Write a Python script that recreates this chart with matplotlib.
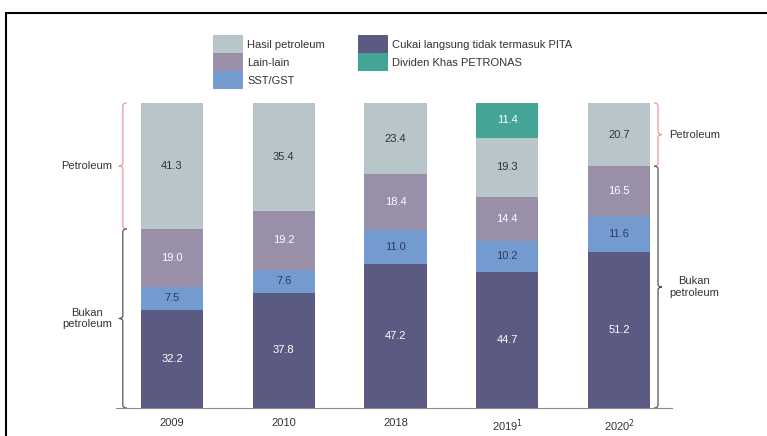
import matplotlib.pyplot as plt
from matplotlib.path import Path
from matplotlib.patches import PathPatch, Rectangle, Patch

plt.rcParams['font.family'] = ['Liberation Sans', 'DejaVu Sans']

# data (% of total revenue)
years = ["2009", "2010", "2018", "2019$^{1}$", "2020$^{2}$"]
cukai = [32.2, 37.8, 47.2, 44.7, 51.2]
sst = [7.5, 7.6, 11.0, 10.2, 11.6]
lain = [19.0, 19.2, 18.4, 14.4, 16.5]
hasil = [41.3, 35.4, 23.4, 19.3, 20.7]
dividen = [0, 0, 0, 11.4, 0]

series_names = ["Cukai langsung tidak termasuk PITA", "SST/GST", "Lain-lain",
                "Hasil petroleum", "Dividen Khas PETRONAS"]
series_vals = [cukai, sst, lain, hasil, dividen]
colors = ["#5b5a82", "#739bd0", "#9a8fa9", "#b8c6c9", "#44a596"]
text_colors = ["white", "#2f3a5c", "white", "#333333", "white"]

FS = 8
W, H = 767, 436
fig = plt.figure(figsize=(W / 100, H / 100), dpi=100)


def px_box(x0, y0, x1, y1):
    return [x0 / W, 1 - y1 / H, (x1 - x0) / W, (y1 - y0) / H]


ax = fig.add_axes(px_box(116, 103, 672, 408))
xmin, xmax = -0.501, 4.474
ax.set_xlim(xmin, xmax)
ax.set_ylim(0, 100)
sx = (xmax - xmin) / 556  # data units per pixel
sy = 100 / 305

x = list(range(len(years)))
bottom = [0] * len(years)
for vals, c, tc in zip(series_vals, colors, text_colors):
    ax.bar(x, vals, width=0.555, bottom=bottom, color=c, linewidth=0)
    for i, v in enumerate(vals):
        if v > 0:
            ax.text(x[i], bottom[i] + v / 2, f"{v:.1f}", ha="center", va="center",
                    fontsize=FS, color=tc)
    bottom = [b + v for b, v in zip(bottom, vals)]

for s in ["top", "right", "left"]:
    ax.spines[s].set_visible(False)
ax.spines["bottom"].set_color("#888888")
ax.set_yticks([])
ax.set_xticks(x)
ax.set_xticklabels(years, fontsize=FS, color="#333333")
ax.tick_params(axis="x", length=0, pad=7)


def brace(xc, y0, y1, side, color):
    w = 4 * sx
    h = 3 * sy
    ym = (y0 + y1) / 2
    verts = [(xc - side * w, y1), (xc, y1), (xc, y1 - h),
             (xc, ym + h), (xc, ym), (xc + side * w, ym),
             (xc, ym), (xc, ym - h),
             (xc, y0 + h), (xc, y0), (xc - side * w, y0)]
    codes = [Path.MOVETO, Path.CURVE3, Path.CURVE3, Path.LINETO, Path.CURVE3, Path.CURVE3,
             Path.CURVE3, Path.CURVE3, Path.LINETO, Path.CURVE3, Path.CURVE3]
    ax.add_patch(PathPatch(Path(verts, codes), fill=False, ec=color, lw=0.9, clip_on=False))


red = "#e99a9a"
grey = "#555555"
# left braces (2009)
split_l = 100 - hasil[0]
brace(-0.44, split_l, 100, -1, red)
brace(-0.44, 0, split_l, -1, grey)
ax.text(-0.537, (split_l + 100) / 2, "Petroleum", ha="right", va="center", fontsize=FS, color="#333333")
ax.text(-0.537, split_l / 2, "Bukan\npetroleum", ha="right", va="center", fontsize=FS,
        color="#333333", multialignment="center")
# right braces (2020)
split_r = 100 - hasil[4]
brace(4.349, split_r, 100, 1, red)
brace(4.349, 0, split_r, 1, grey)
ax.text(4.447, (split_r + 100) / 2, "Petroleum", ha="left", va="center", fontsize=FS, color="#333333")
ax.text(4.447, split_r / 2, "Bukan\npetroleum", ha="left", va="center", fontsize=FS,
        color="#333333", multialignment="center")

# legend
order = [3, 2, 1, 0, 4]
handles = [Patch(fc=colors[i], ec="none") for i in order]
labels = [series_names[i] for i in order]
leg = fig.legend(handles, labels, ncol=2, loc="upper left", bbox_to_anchor=(213 / W, 1 - 35 / H),
                 frameon=False, borderpad=0, borderaxespad=0, fontsize=FS,
                 handlelength=2.7, handleheight=2.12, labelspacing=0,
                 handletextpad=0.36, columnspacing=2.95)
for t in leg.get_texts():
    t.set_color("#333333")

# outer frame
fig.add_artist(Rectangle((6 / W, -0.1), 1.0, 1 - 13 / H + 0.1, transform=fig.transFigure,
                         fill=False, lw=1.5, ec="black"))

fig.savefig("out.png", dpi=100)
